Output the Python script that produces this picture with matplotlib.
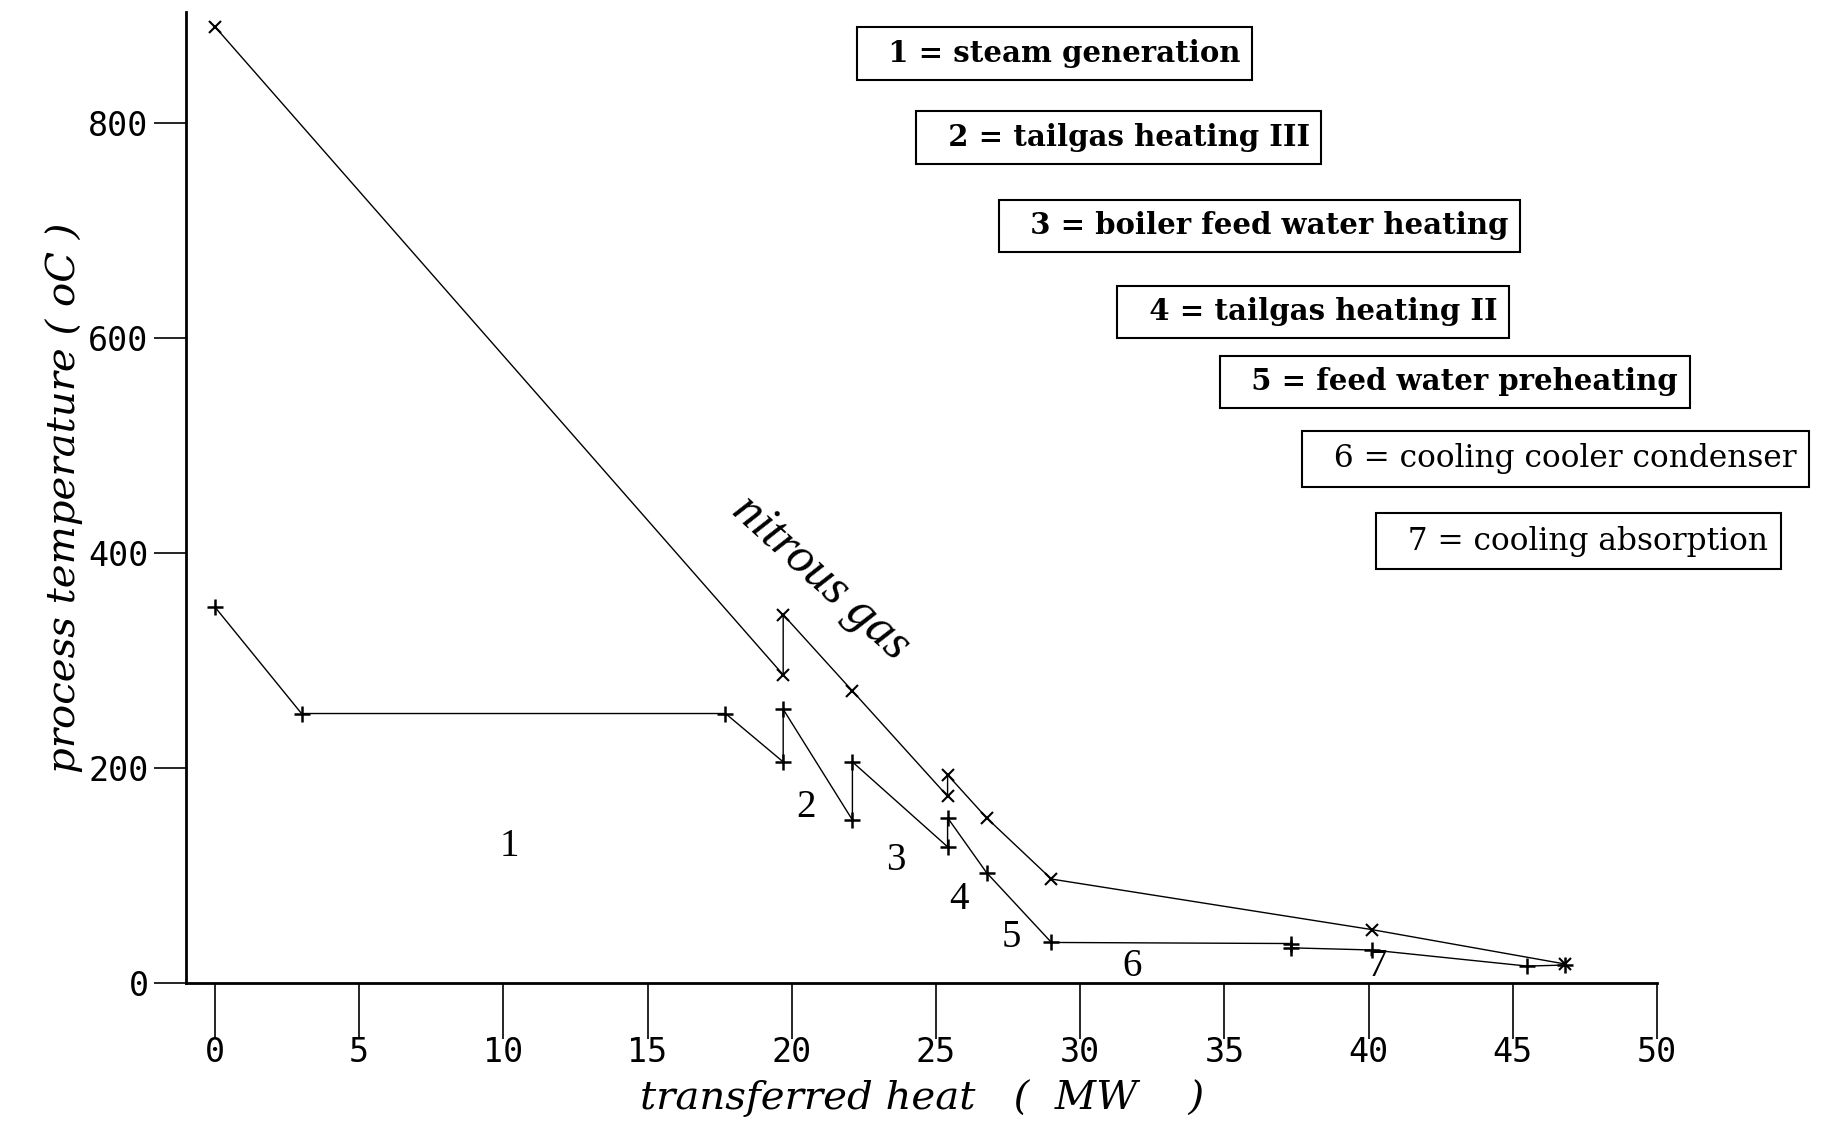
import numpy as np
import matplotlib
matplotlib.use('Agg')
import matplotlib.pyplot as plt

# nitrous gas (hot side)
gas_q = [0.0, 19.7, 19.7, 22.1, 25.4, 25.4, 26.75, 29.0, 40.1, 46.8]
gas_t = [890, 287, 343, 272, 174, 194, 154, 97, 50, 18]

# process streams (cold side)
cold_q = [0.0, 3.0, 17.7, 19.7, 19.7, 22.1, 22.1, 25.4, 25.4, 26.75, 29.0, 37.3, 37.3, 40.1, 45.5, 46.8]
cold_t = [350, 251, 251, 206, 255, 152, 206, 127, 154, 103, 38, 37, 33, 31, 16, 17]

# section numbers along the curve
sec_labels = ['1', '2', '3', '4', '5', '6', '7']
sec_q = [10.2, 20.5, 23.6, 25.8, 27.6, 31.8, 40.3]
sec_t = [127, 164, 114, 78, 43, 16, 16]

legend_texts = ['1 = steam generation', '2 = tailgas heating III',
                '3 = boiler feed water heating', '4 = tailgas heating II',
                '5 = feed water preheating', '6 = cooling cooler condenser',
                '7 = cooling absorption']
legend_bold = [True, True, True, True, True, False, False]

xticks = [0, 5, 10, 15, 20, 25, 30, 35, 40, 45, 50]
yticks = [0, 200, 400, 600, 800]

fig = plt.figure(figsize=(18.25, 11.23), dpi=100)
ax = fig.add_axes([0.102, 0.1244, 0.806, 0.8652])

ax.plot(gas_q, gas_t, color='black', linewidth=1.0, marker='x', markersize=8,
        markeredgewidth=1.5)
ax.plot(cold_q, cold_t, color='black', linewidth=1.0, marker='+', markersize=11,
        markeredgewidth=1.8)

ax.set_xlim(-1.0, 50)
ax.set_ylim(0, 904)
ax.spines['top'].set_visible(False)
ax.spines['right'].set_visible(False)
ax.spines['left'].set_linewidth(2)
ax.spines['bottom'].set_linewidth(2)

ax.set_xticks(xticks)
ax.set_xticklabels([str(v) for v in xticks], family='DejaVu Sans Mono', fontsize=24)
ax.set_yticks(yticks)
ax.set_yticklabels([str(v) for v in yticks], family='DejaVu Sans Mono', fontsize=24)
ax.tick_params(axis='x', direction='out', length=40, width=1.2, pad=-2)
ax.tick_params(axis='y', direction='out', length=23, width=1.2, pad=4)

ax.set_xlabel('transferred heat   (  MW    )', family='DejaVu Serif', style='italic',
              fontsize=29, labelpad=7)
ax.set_ylabel('process temperature ( oC )', family='DejaVu Serif', style='italic',
              fontsize=29, labelpad=4)

for lab, q, t in zip(sec_labels, sec_q, sec_t):
    ax.text(q, t, lab, family='Liberation Serif', fontsize=28, ha='center', va='center')

ax.text(21.0, 377, 'nitrous gas', family='Liberation Serif', style='italic', fontsize=36,
        rotation=-42, ha='center', va='center')

# legend boxes (figure fractions)
box_left = [0.4688, 0.5013, 0.5466, 0.6116, 0.6677, 0.7130, 0.7538]
box_yc = [0.9523, 0.8777, 0.7990, 0.7223, 0.6601, 0.5917, 0.5181]
for txt, bold, x0, yc in zip(legend_texts, legend_bold, box_left, box_yc):
    fig.text(x0 + 0.007, yc, '  ' + txt, family='DejaVu Serif',
             fontweight='bold' if bold else 'normal',
             fontsize=21 if bold else 22.5,
             ha='left', va='center',
             bbox=dict(boxstyle='square,pad=0.4', facecolor='white',
                       edgecolor='black', linewidth=1.5))

fig.savefig('out.png', dpi=100)
